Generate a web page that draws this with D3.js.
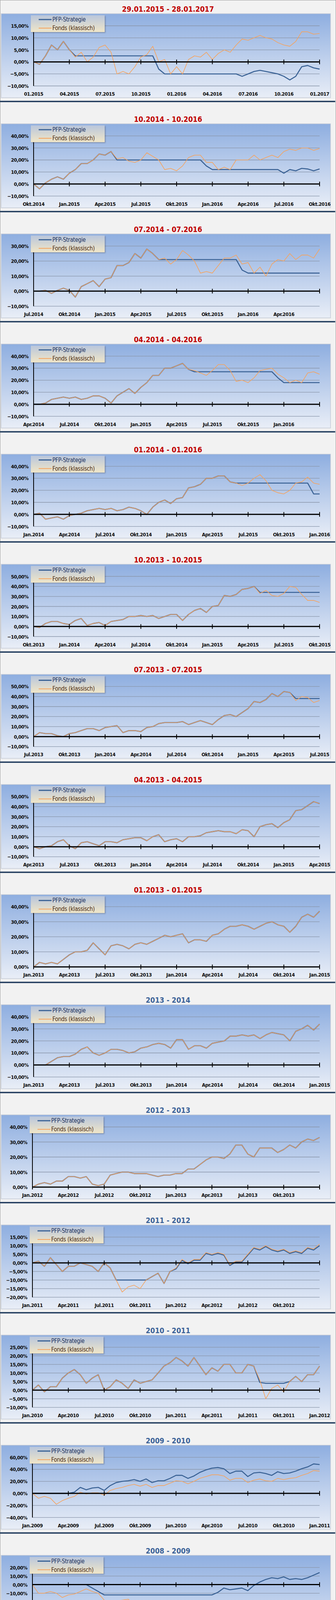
<!DOCTYPE html>
<html><head><meta charset="utf-8">
<script src="https://cdn.jsdelivr.net/npm/d3@7/dist/d3.min.js"></script>
<style>
html,body{margin:0;padding:0;background:#f2f2f2;}
svg text{font-family:"Liberation Sans Narrow","DejaVu Sans Condensed","Roboto Condensed",sans-serif;}
</style></head><body>
<svg id="c" width="860" height="4232"></svg>
<script>
// ---------- data (half-month samples, % return) ----------
const titles = ["29.01.2015 - 28.01.2017","10.2014 - 10.2016","07.2014 - 07.2016","04.2014 - 04.2016","01.2014 - 01.2016",
 "10.2013 - 10.2015","07.2013 - 07.2015","04.2013 - 04.2015","01.2013 - 01.2015","2013 - 2014","2012 - 2013",
 "2011 - 2012","2010 - 2011","2009 - 2010","2008 - 2009"];
const xLabels = [
 ["01.2015","04.2015","07.2015","10.2015","01.2016","04.2016","07.2016","10.2016","01.2017"],
 ["Okt.2014","Jan.2015","Apr.2015","Jul.2015","Okt.2015","Jan.2016","Apr.2016","Jul.2016","Okt.2016"],
 ["Jul.2014","Okt.2014","Jan.2015","Apr.2015","Jul.2015","Okt.2015","Jan.2016","Apr.2016",""],
 ["Apr.2014","Jul.2014","Okt.2014","Jan.2015","Apr.2015","Jul.2015","Okt.2015","Jan.2016",""],
 ["Jan.2014","Apr.2014","Jul.2014","Okt.2014","Jan.2015","Apr.2015","Jul.2015","Okt.2015","Jan.2016"],
 ["Okt.2013","Jan.2014","Apr.2014","Jul.2014","Okt.2014","Jan.2015","Apr.2015","Jul.2015","Okt.2015"],
 ["Jul.2013","Okt.2013","Jan.2014","Apr.2014","Jul.2014","Okt.2014","Jan.2015","Apr.2015","Jul.2015"],
 ["Apr.2013","Jul.2013","Okt.2013","Jan.2014","Apr.2014","Jul.2014","Okt.2014","Jan.2015","Apr.2015"],
 ["Jan.2013","Apr.2013","Jul.2013","Okt.2013","Jan.2014","Apr.2014","Jul.2014","Okt.2014","Jan.2015"],
 ["Jan.2013","Apr.2013","Jul.2013","Okt.2013","Jan.2014","Apr.2014","Jul.2014","Okt.2014","Jan.2015"],
 ["Jan.2012","Apr.2012","Jul.2012","Okt.2012","Jan.2013","Apr.2013","Jul.2013","Okt.2013",""],
 ["Jan.2011","Apr.2011","Jul.2011","Okt.2011","Jan.2012","Apr.2012","Jul.2012","Okt.2012",""],
 ["Jan.2010","Apr.2010","Jul.2010","Okt.2010","Jan.2011","Apr.2011","Jul.2011","Okt.2011","Jan.2012"],
 ["Jan.2009","Apr.2009","Jul.2009","Okt.2009","Jan.2010","Apr.2010","Jul.2010","Okt.2010","Jan.2011"],
 ["Jan.2008","Apr.2008","Jul.2008","Okt.2008","Jan.2009","Apr.2009","Jul.2009","Okt.2009","Jan.2010"]];
const yRanges = [[-10,15,5],[-10,40,10],[-10,30,10],[-10,40,10],[-10,40,10],[-10,50,10],[-10,50,10],[-10,50,10],
 [0,40,10],[-10,40,10],[0,40,10],[-20,15,5],[-10,25,5],[-40,60,20],[-50,20,10]];

const p1Fund=[0,-1,2.5,7,5,8.5,5,2,4,0,2,6,7,4,-5,-4,-5,-2,2,3,6.5,0,1,-5,-2,-5,1,2.5,2,4,1,3.5,5,4,7,9.5,9,10,11,10,9.5,8,7,6.5,8.5,12.5,12.5,11.5,11.8];
const p1Pfp =[0,-1,2.5,7,5,8.5,5,2.5,2.5,2.5,2.5,2.5,2.5,2.5,2.5,2.5,2.5,2.5,2.5,2.5,2.5,-3,-5,-5,-5,-5,-5,-5,-5,-5,-5,-5,-5,-5,-5,-6,-5,-4,-3.5,-4,-4.5,-5,-6,-7.5,-6,-2,-1.5,-2.5,-3];
const p2Fund=[0,-4,1,4,6,4,9,12,17,17,20,25,24,27,21,22,19,18,20,26,23,20,12,13,11,15,22,24,24,18,18,12,14,12,20,20,20,24,20,22,24,22,27,29,28,30,30,28,29.5];
const p2Pfp =[0,-4,1,4,6,4,9,12,17,17,20,25,24,27,20,20,20,20,20,20,20,20,20,20,20,20,20,20,20,15,12,12,12,12,12,12,12,12,12,12,12,12,9,12,11,13,12.5,11,12.5];
const p3Fund=[0,0,0.5,-1.5,0.5,2,0.5,-4,3,5,7,3,8,9,17,17,19,25,22,28,25,21,22,18,21,27,24,20,12,13,12,17,22,22,24,18,19,12,16,10,18,21,20,25,21,24,24,22,28];
const p3Pfp =[0,0,0.5,-1.5,0.5,2,0.5,-4,3,5,7,3,8,9,17,17,19,25,22,28,25,21,21,21,21,21,21,21,21,21,21,21,21,21,21,14,12,12,12,12,12,12,12,12,12,12,12,12,12];
const p4Fund=[0,0,1,4,5,6,5,6,4,5,7,7,5,1,7,10,13,9,14,18,24,24,30,30,32,34,29,28,26,24,28,33,33,28,19,20,18,22,28,29,30,25,22,18,20,18,26,27,25];
const p4Pfp =[0,0,1,4,5,6,5,6,4,5,7,7,5,1,7,10,13,9,14,18,24,24,30,30,32,34,29,27,27,27,27,27,27,27,27,27,27,27,27,27,27,22,18,18,18,18,18,18,18];
const p5Fund=[0,1,-4,-3,-2,-4,-1,0,1,3,4,5,4,5,3,4,6,5,3,0,6,10,12,9,13,14,22,23,25,30,30,32,32,27,26,24,26,30,33,28,20,18,17,20,26,27,31,26,25];
const p5Pfp =[0,1,-4,-3,-2,-4,-1,0,1,3,4,5,4,5,3,4,6,5,3,0,6,10,12,9,13,14,22,23,25,30,30,32,32,27,26,26,26,26,26,26,26,26,26,26,26,26,26,17,17];
const p6Fund=[0,-1,3,5,5,3,2,6,8,1,3,4,1,5,6,7,10,10,11,10,11,8,10,12,12,6,12,16,18,14,20,21,31,30,32,37,38,40,33,36,31,30,33,40,39,32,26,26,24];
const p6Pfp =[0,-1,3,5,5,3,2,6,8,1,3,4,1,5,6,7,10,10,11,10,11,8,10,12,12,6,12,16,18,14,20,21,31,30,32,37,38,40,34,34,34,34,34,34,34,34,34,34,34];
const p7Fund=[0,4,3,3,1,0,3,4,6,8,8,6,9,10,11,4,6,6,5,9,10,13,14,14,14,15,12,14,16,14,12,17,21,22,20,24,28,35,34,37,43,40,45,44,36,40,39,34,36];
const p7Pfp =[0,4,3,3,1,0,3,4,6,8,8,6,9,10,11,4,6,6,5,9,10,13,14,14,14,15,12,14,16,14,12,17,21,22,20,24,28,35,34,37,43,40,45,44,38,38,38,38,38];
const p8Fund=[0,-2,0,1,5,7,1,-2,4,5,3,1,5,5,4,7,8,9,9,6,10,12,5,7,8,5,10,10,11,14,15,16,15,15,13,17,16,10,20,22,23,19,24,27,36,37,41,45,43];
const p9Fund=[0,3,2,3,2,5,8,10,10,11,16,12,8,14,15,14,12,15,16,15,17,19,21,20,21,22,16,18,18,17,21,22,25,27,27,28,27,25,27,29,30,28,27,23,27,33,35,33,37];
const p10Fund=[0,0,0,3,6,7,7,9,13,15,10,8,10,13,13,12,10,11,14,15,17,18,17,14,21,21,13,16,16,14,18,19,20,24,24,25,24,25,22,25,27,26,25,20,28,30,33,29,34];
const p11Fund=[0,2,3,2,4,4,7,7,6,7,2,1,2,8,9,10,10,9,9,9,8,7,8,8,9,9,12,12,15,18,20,20,19,22,28,28,22,20,26,26,26,23,25,28,26,30,32,31,33];
const p12Fund=[0,1,-2,3,-1,-5,-2,-2,0,-1,-2,-5,0,-3,-10,-17,-14,-13,-15,-10,-8,-6,-12,-5,-3,2,0,2,2,6,5,6,5,-1,1,1,5,9,8,10,8,7,8,6,7,6,9,8,11];
const p12Pfp =[0,1,-2,3,-1,-5,-2,-2,0,-1,-2,-5,0,-3,-10,-10,-10,-10,-10,-10,-8,-6,-12,-5,-3.5,1.5,-0.5,1.5,1.5,5.5,4.5,5.5,4.5,-1.5,0.5,0.5,4.5,8.5,7.5,9.5,7.5,6.5,7.5,5.5,6.5,5.5,8.5,7.5,10];
const p13Fund=[0,3,-1,2,2,7,10,12,9,4,7,9,0,2,6,4,1,6,4,5,6,10,14,16,19,17,14,19,14,9,13,11,15,15,10,10,15,14,6,-5,1,3,-1,5,8,5,9,9,14];
const p13Pfp =[0,3,-1,2,2,7,10,12,9,4,7,9,0,2,6,4,1,6,4,5,6,10,14,16,19,17,14,19,14,9,13,11,15,15,10,10,15,14,4.5,4,4,4,4,5,8,5,9,9,14];
const p14Fund=[0,-8,-5,-8,-18,-12,-8,-5,2,-1,1,1,-3,5,8,10,13,15,12,15,10,13,13,17,21,20,16,20,25,28,31,31,29,22,25,25,18,22,24,21,20,25,23,25,26,30,33,38,37];
const p14Pfp =[0,0,0,0,0,0,0,2,10,6,9,10,5,13,18,20,21,23,20,24,18,21,21,25,30,30,25,29,35,39,42,43,41,33,37,37,28,34,35,33,30,36,33,34,37,41,44,49,48];
const p15Fund=[0,-10,-10,-8,-10,-15,-12,-11,-8,-5,-8,-10,-18,-20,-19,-18,-17,-22,-30,-35,-30,-40,-36,-38,-36,-37,-35,-38,-45,-41,-40,-37,-32,-34,-33,-33,-34,-30,-29,-28,-27,-26,-27,-25,-27,-26,-25,-23,-22];
const p15Pfp =[0,0,0,0,0,0,0,0,0,0,-4,-8,-12,-12,-12,-12,-12,-12,-12,-12,-12,-12,-12,-12,-12,-12,-12,-12,-12,-12,-12,-9,-4,-6,-5,-4,-7,-1,3,6,8,7,9,6,7,6,8,11,14];

const fundSeries=[p1Fund,p2Fund,p3Fund,p4Fund,p5Fund,p6Fund,p7Fund,p8Fund,p9Fund,p10Fund,p11Fund,p12Fund,p13Fund,p14Fund,p15Fund];
const pfpSeries=[p1Pfp,p2Pfp,p3Pfp,p4Pfp,p5Pfp,p6Pfp,p7Pfp,p8Fund,p9Fund,p10Fund,p11Fund,p12Pfp,p13Pfp,p14Pfp,p15Pfp];

// ---------- drawing ----------
const svg=d3.select("#c");
const defs=svg.append("defs");
const bg=defs.append("linearGradient").attr("id","bg").attr("x1",0).attr("y1",0).attr("x2",0).attr("y2",1);
bg.append("stop").attr("offset","0%").attr("stop-color","#8eaee0");
bg.append("stop").attr("offset","100%").attr("stop-color","#e9eef7");
const lg=defs.append("linearGradient").attr("id","lg").attr("x1",0).attr("y1",0).attr("x2",0).attr("y2",1);
lg.append("stop").attr("offset","0%").attr("stop-color","#b9c6dc");
lg.append("stop").attr("offset","100%").attr("stop-color","#f0e6c8");
const sh=defs.append("filter").attr("id","sh").attr("x","-10%").attr("y","-10%").attr("width","130%").attr("height","140%");
sh.append("feDropShadow").attr("dx",2).attr("dy",2).attr("stdDeviation",1.5).attr("flood-color","#334").attr("flood-opacity",0.35);

svg.append("rect").attr("x",0.5).attr("y",0.5).attr("width",859).attr("height",4231).attr("fill","#f2f2f2").attr("stroke","#a0a0a0");

const PH=281.9;
const fmt=v=>d3.format(".2f")(v).replace(".",",")+"%";

titles.forEach((t,i)=>{
  const T=i*PH;
  const g=svg.append("g").attr("transform",`translate(0,${T})`);
  const left = i<10?86:83, right=818;
  g.append("text").attr("x",430).attr("y",30).attr("text-anchor","middle")
    .attr("font-size",19).attr("font-weight","bold").attr("fill",i<9?"#c00000":"#3b6298").text(t);
  g.append("rect").attr("x",3).attr("y",35).attr("width",843).attr("height",215)
    .attr("fill","url(#bg)").attr("stroke","#c4cad6").attr("stroke-width",1.5);
  const [ymin,ymax,step]=yRanges[i];
  const y=d3.scaleLinear().domain([ymin,ymax]).range([220,66]);
  const x=d3.scaleLinear().domain([0,24]).range([left,right]);
  const ticks=d3.range(ymin,ymax+step/2,step);
  g.selectAll(".grid").data(ticks).join("line").attr("x1",left).attr("x2",right)
    .attr("y1",d=>y(d)).attr("y2",d=>y(d)).attr("stroke","#8a96aa").attr("stroke-width",1.3);
  g.selectAll(".yl").data(ticks).join("text").attr("x",left-13).attr("y",d=>y(d)+5)
    .attr("text-anchor","end").attr("font-size",13).attr("letter-spacing",-0.6).attr("font-weight","bold").attr("fill","#111").text(fmt);
  g.append("line").attr("x1",left).attr("x2",left).attr("y1",y(ymax)).attr("y2",y(ymin)).attr("stroke","#000").attr("stroke-width",2);
  const line=d3.line().x((d,k)=>x(k/2)).y(d=>y(d));
  g.append("path").attr("d",line(pfpSeries[i])).attr("fill","none").attr("stroke","#3a6295").attr("stroke-width",2.6).attr("stroke-linejoin","round");
  g.append("path").attr("d",line(fundSeries[i])).attr("fill","none").attr("stroke","#f5a35e").attr("stroke-width",1.6).attr("stroke-linejoin","round");
  const y0=y(0);
  g.append("line").attr("x1",left).attr("x2",right).attr("y1",y0).attr("y2",y0).attr("stroke","#000").attr("stroke-width",3);
  const mt=d3.range(0,25,3);
  g.selectAll(".tk").data(mt).join("line").attr("x1",d=>x(d)).attr("x2",d=>x(d))
    .attr("y1",y0-6).attr("y2",y0+6).attr("stroke","#000").attr("stroke-width",2);
  g.selectAll(".xl").data(mt).join("text").attr("x",d=>Math.min(x(d),826)).attr("y",245).attr("text-anchor","middle")
    .attr("font-size",13).attr("letter-spacing",-0.6).attr("font-weight","bold").attr("fill","#111").text((d,k)=>xLabels[i][k]);
  const L=g.append("g").attr("transform",`translate(${i<10?79:76},39)`);
  L.append("rect").attr("width",189).attr("height",43).attr("fill","url(#lg)").attr("filter","url(#sh)");
  L.append("line").attr("x1",20).attr("x2",53).attr("y1",11).attr("y2",11).attr("stroke","#3a6295").attr("stroke-width",3);
  L.append("line").attr("x1",20).attr("x2",53).attr("y1",33).attr("y2",33).attr("stroke","#f5a35e").attr("stroke-width",2);
  L.append("text").attr("x",55).attr("y",16).attr("font-size",15).attr("letter-spacing",-0.4).attr("fill","#1f3560").text("PFP-Strategie");
  L.append("text").attr("x",55).attr("y",38).attr("font-size",15).attr("letter-spacing",-0.4).attr("fill","#4a2a10").text("Fonds (klassisch)");
  g.append("rect").attr("x",0).attr("y",258).attr("width",858).attr("height",3.5).attr("fill","#223d5e");
});
</script></body></html>
